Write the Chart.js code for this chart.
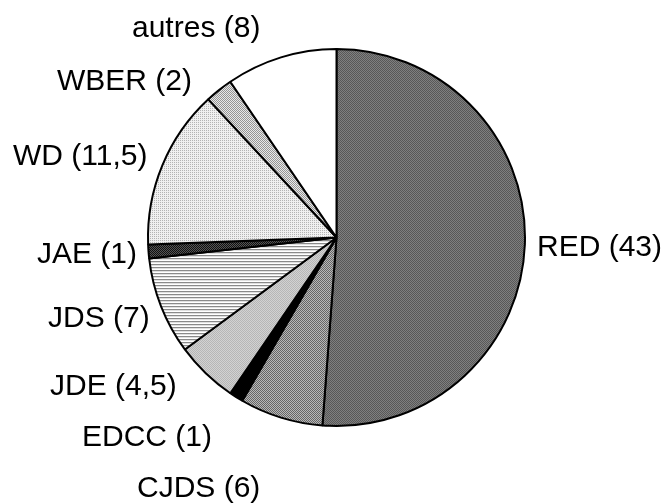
<!DOCTYPE html>
<html>
<head>
<meta charset="utf-8">
<script src="https://cdn.jsdelivr.net/npm/chart.js@4.4.0/dist/chart.umd.min.js"></script>
<style>
  html, body { margin: 0; padding: 0; background: #fff; }
  #wrap { width: 664px; height: 504px; }
</style>
</head>
<body>
<div id="wrap"><canvas id="myChart" width="664" height="504"></canvas></div>
<script>
// data, clockwise from 12 o'clock
const categories = ['RED', 'CJDS', 'EDCC', 'JDE', 'JDS', 'JAE', 'WD', 'WBER', 'autres'];
const values = [43, 6, 1, 4.5, 7, 1, 11.5, 2, 8];
const valueLabels = ['43', '6', '1', '4,5', '7', '1', '11,5', '2', '8'];

// where each label sits (left edge, baseline) - layout only
const labelPos = [
    [537, 256], [137, 497], [82, 446], [50, 395], [48, 327],
    [37, 263], [13, 165], [57, 90], [132, 37]
];

// small pixel tiles to imitate the hatch fills
function tile(w, h, fn) {
    let c = document.createElement('canvas');
    c.width = w; c.height = h;
    let cx = c.getContext('2d');
    for (let y = 0; y < h; y++) {
        for (let x = 0; x < w; x++) {
            cx.fillStyle = fn(x, y);
            cx.fillRect(x, y, 1, 1);
        }
    }
    return cx.createPattern(c, 'repeat');
}
function checker(a, b) {
    return tile(2, 2, (x, y) => ((x + y) % 2 == 0 ? a : b));
}

const ctx = document.getElementById('myChart').getContext('2d');
const fills = [
    checker('#585858', '#808080'),                                  // RED
    checker('#666666', '#b8b8b8'),                                  // CJDS
    '#000000',                                                      // EDCC
    checker('#b6b6b6', '#d2d2d2'),                                  // JDE
    tile(1, 3, (x, y) => (y == 0 ? '#8a8a8a' : (y == 1 ? '#e0e0e0' : '#ffffff'))), // JDS
    checker('#111111', '#555555'),                                  // JAE
    tile(2, 2, (x, y) => (x == 0 && y == 0 ? '#b4b4b4' : '#f0f0f0')), // WD
    checker('#959595', '#e8e8e8'),                                  // WBER
    '#ffffff'                                                       // autres
];

const sliceLabels = {
    id: 'sliceLabels',
    afterDraw(chart) {
        let c = chart.ctx;
        c.save();
        c.font = '30px "Liberation Sans", Arial, sans-serif';
        c.fillStyle = '#000';
        c.textAlign = 'left';
        c.textBaseline = 'alphabetic';
        for (let i = 0; i < categories.length; i++) {
            c.fillText(categories[i] + ' (' + valueLabels[i] + ')', labelPos[i][0], labelPos[i][1]);
        }
        c.restore();
    }
};

const chart = new Chart(ctx, {
    type: 'pie',
    data: {
        labels: categories,
        datasets: [{
            data: values,
            backgroundColor: fills,
            borderColor: '#000',
            borderWidth: 2,
            borderAlign: 'center'
        }]
    },
    options: {
        responsive: false,
        animation: false,
        events: [],
        layout: { padding: { left: 147, right: 138, top: 48, bottom: 77 } },
        plugins: {
            legend: { display: false },
            tooltip: { enabled: false }
        }
    },
    plugins: [sliceLabels]
});
</script>
</body>
</html>
